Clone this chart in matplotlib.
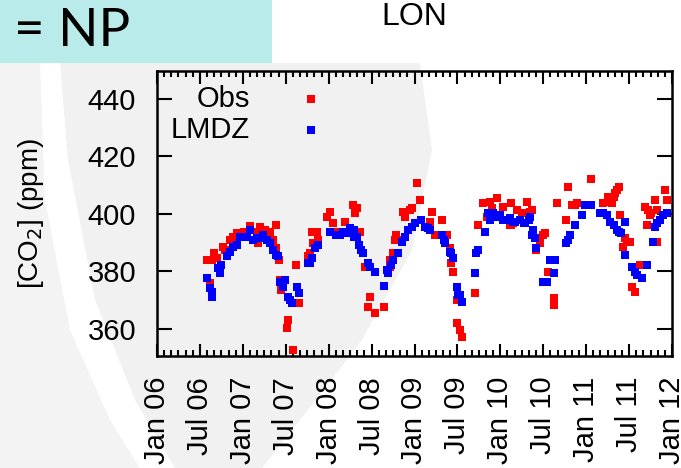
import matplotlib
matplotlib.use("Agg")
from matplotlib import pyplot as plt
from matplotlib.patches import Polygon, Rectangle
import numpy as np

plt.rcParams['font.family'] = ['Liberation Sans', 'DejaVu Sans']

# station LON, decimal year vs CO2 (ppm)
obs_time = [2006.58, 2006.64, 2006.70, 2006.62, 2006.77, 2006.85, 2006.93, 2007.08, 2007.20, 2007.32,
            2007.39, 2007.35, 2007.39, 2007.42, 2007.43, 2007.45, 2007.62, 2007.66, 2007.53, 2007.51,
            2007.58, 2007.78, 2007.80, 2007.86, 2007.88, 2008.02, 2008.05, 2008.19, 2008.28, 2008.31,
            2008.36, 2008.42, 2008.48, 2008.46, 2008.54, 2008.64, 2008.71, 2008.75, 2008.77, 2008.87,
            2008.95, 2009.03, 2009.06, 2009.20, 2009.32, 2009.38, 2009.41, 2009.45, 2009.49, 2009.49,
            2009.53, 2009.55, 2009.70, 2009.74, 2009.84, 2009.80, 2009.88, 2009.96, 2010.13, 2010.15,
            2010.13, 2010.31, 2010.35, 2010.46, 2010.50, 2010.42, 2010.56, 2010.62, 2010.62, 2010.66,
            2010.77, 2010.79, 2010.83, 2010.89, 2011.06, 2011.20, 2011.26, 2011.30, 2011.34, 2011.36,
            2011.39, 2011.43, 2011.45, 2011.51, 2011.53, 2011.57, 2011.63, 2011.69, 2011.71, 2011.74,
            2011.80, 2011.82, 2011.82, 2011.92,
            2006.89, 2007.01, 2007.16, 2007.26, 2007.18, 2006.66, 2006.79, 2007.76, 2007.82, 2008.09,
            2007.98, 2008.33, 2008.89, 2008.97, 2009.18, 2009.24, 2009.43, 2009.90, 2010.03, 2010.11,
            2008.79, 2008.83, 2008.71, 2010.19, 2010.25, 2010.37, 2010.46, 2010.52, 2010.87, 2011.28,
            2011.32, 2011.38, 2011.47, 2011.72, 2011.76, 2011.94]
obs_co2 = [384.0, 384.0, 384.6, 375.9, 388.5, 391.0, 393.4, 395.8, 395.6, 393.8,
           396.2, 391.0, 388.2, 384.0, 377.0, 373.6, 382.2, 368.9, 363.1, 360.4,
           352.7, 386.4, 393.8, 393.8, 391.0, 400.8, 396.9, 397.3, 403.1, 400.3,
           393.8, 381.7, 371.2, 367.8, 365.5, 367.8, 384.0, 386.3, 391.0, 400.8,
           401.4, 410.7, 404.9, 400.8, 397.9, 392.7, 388.1, 379.9, 370.1, 362.0,
           359.7, 357.3, 372.4, 396.2, 399.1, 403.7, 404.3, 405.5, 403.7, 396.8,
           396.2, 404.3, 400.8, 391.0, 392.7, 387.5, 379.9, 370.7, 368.4, 403.9,
           397.9, 409.5, 403.1, 403.7, 412.1, 403.7, 406.0, 403.7, 407.2, 408.4,
           399.7, 388.6, 391.6, 390.4, 374.7, 373.0, 382.3, 402.5, 396.2, 399.7,
           404.9, 401.4, 390.4, 408.4,
           392.1, 393.8, 393.8, 394.4, 389.8, 386.3, 387.5, 385.2, 389.8, 393.8,
           399.1, 402.0, 399.1, 402.0, 397.3, 392.7, 382.9, 402.0, 402.5, 396.2,
           392.7, 391.0, 381.7, 401.4, 400.2, 401.4, 389.8, 393.3, 403.1, 404.3,
           406.0, 409.5, 390.4, 401.4, 400.2, 404.9]

model_time = [2006.58, 2006.64, 2006.64, 2006.73, 2006.75, 2006.81, 2006.85, 2006.93, 2006.97, 2007.05,
              2007.08, 2007.12, 2007.20, 2007.24, 2007.32, 2007.35, 2007.41, 2007.43, 2007.49, 2007.47,
              2007.53, 2007.57, 2007.63, 2007.65, 2007.76, 2007.80, 2007.84, 2007.88, 2008.02, 2008.09,
              2008.17, 2008.25, 2008.33, 2008.35, 2008.40, 2008.46, 2008.54, 2008.64, 2008.69, 2008.73,
              2008.81, 2008.85, 2008.93, 2009.01, 2009.08, 2009.16, 2009.32, 2009.36, 2009.41, 2009.45,
              2009.49, 2009.51, 2009.55, 2009.70, 2009.72, 2009.74, 2009.82, 2009.88, 2009.92, 2010.00,
              2010.07, 2010.15, 2010.23, 2010.29, 2010.35, 2010.38, 2010.40, 2010.42, 2010.50, 2010.60,
              2010.62, 2010.77, 2010.81, 2010.87, 2010.95, 2011.02, 2011.16, 2011.24, 2011.28, 2011.36,
              2011.41, 2011.45, 2011.45, 2011.53, 2011.59, 2011.65, 2011.71, 2011.78, 2011.82, 2011.90,
              2011.94,
              2006.62, 2006.71, 2006.89, 2007.01, 2007.16, 2007.28, 2007.39, 2007.55, 2007.78, 2008.13,
              2008.21, 2008.29, 2008.29, 2008.38, 2008.48, 2008.68, 2008.75, 2008.89, 2008.97, 2009.12,
              2009.18, 2009.34, 2009.43, 2009.53, 2009.96, 2010.03, 2010.11, 2009.86, 2010.17, 2010.27,
              2010.33, 2010.37, 2010.54, 2010.58, 2010.64, 2010.79, 2010.99, 2011.06, 2011.20, 2011.32,
              2011.38, 2011.57, 2011.80, 2011.86]
model_co2 = [377.6, 373.0, 371.2, 379.5, 382.3, 385.2, 386.9, 389.2, 392.1, 391.9,
             394.4, 391.0, 391.6, 392.7, 389.8, 387.5, 385.2, 376.5, 377.0, 374.7,
             371.2, 368.9, 374.7, 372.4, 382.9, 384.6, 388.1, 389.2, 393.8, 392.7,
             393.8, 395.0, 392.1, 389.2, 386.3, 382.9, 379.9, 375.0, 379.4, 382.3,
             386.3, 390.4, 394.4, 396.8, 397.9, 395.0, 392.7, 389.8, 386.9, 384.6,
             374.7, 371.8, 369.5, 379.4, 386.3, 387.5, 393.8, 397.9, 400.2, 399.7,
             397.9, 397.3, 397.9, 396.8, 399.1, 394.4, 391.6, 388.1, 376.5, 384.0,
             379.4, 389.8, 392.7, 396.2, 399.7, 403.1, 400.2, 399.7, 397.3, 394.4,
             393.3, 397.3, 385.7, 381.7, 378.8, 377.6, 382.3, 390.4, 396.8, 399.7,
             400.2,
             374.2, 381.1, 388.6, 392.1, 391.6, 391.0, 385.7, 370.1, 382.9, 392.7,
             393.3, 394.4, 392.1, 387.5, 381.7, 380.5, 384.0, 392.1, 395.6, 395.6,
             394.4, 391.0, 386.3, 371.8, 399.1, 397.9, 398.5, 400.2, 397.3, 396.8,
             397.9, 392.7, 376.5, 384.0, 384.0, 391.0, 403.1, 403.1, 400.2, 396.2,
             393.8, 379.9, 395.6, 397.9]

xtick_pos = [2006.0, 2006.5, 2007.0, 2007.5, 2008.0, 2008.5, 2009.0,
             2009.5, 2010.0, 2010.5, 2011.0, 2011.5, 2012.0]
xtick_labels = ['Jan 06', 'Jul 06', 'Jan 07', 'Jul 07', 'Jan 08', 'Jul 08', 'Jan 09',
                'Jul 09', 'Jan 10', 'Jul 10', 'Jan 11', 'Jul 11', 'Jan 12']
ytick_pos = [360, 380, 400, 420, 440]

W, H = 681, 468

def px(x, y):
    return (x / W, 1 - y / H)

fig = plt.figure(figsize=(6.81, 4.68), dpi=100)
fig.patch.set_facecolor('white')

# slide background swoosh
band = [(60, 63), (420, 63), (432, 150), (412, 250), (362, 340), (300, 420), (262, 468),
        (175, 468), (135, 400), (95, 300), (68, 160)]
fig.patches.append(Polygon([px(*p) for p in band], closed=True, transform=fig.transFigure,
                           facecolor='#f1f1f1', edgecolor='none', zorder=-10))
corner = [(0, 63), (40, 63), (45, 200), (70, 330), (110, 420), (140, 468), (0, 468)]
fig.patches.append(Polygon([px(*p) for p in corner], closed=True, transform=fig.transFigure,
                           facecolor='#f3f3f3', edgecolor='none', zorder=-10))
fig.patches.append(Rectangle(px(0, 63), 272 / W, 63 / H, transform=fig.transFigure,
                             facecolor='#b9ebeb', edgecolor='none', zorder=-5))
fig.text(14 / W, 1 - 31 / H, '= NP', fontsize=38, family=['Lato', 'DejaVu Sans'],
         va='center', ha='left')

ax = fig.add_axes([157 / W, 1 - 356 / H, 515 / W, 285 / H])
ax.set_facecolor('none')

ax.plot(obs_time, obs_co2, 's', color='#ff0000', ms=6, mew=0, clip_on=False)
ax.plot(model_time, model_co2, 's', color='#0000ff', ms=6, mew=0, clip_on=False)

ax.set_xlim(2006.0, 2012.0)
ax.set_ylim(350.6, 449.7)
ax.set_xticks(xtick_pos)
ax.set_xticklabels(xtick_labels, rotation=90, fontsize=21)
ax.set_xticks(np.arange(2006, 2012, 1 / 12), minor=True)
ax.set_yticks(ytick_pos)
ax.set_yticklabels([str(v) for v in ytick_pos], fontsize=21)

ax.tick_params(which='both', direction='in', top=True, right=True, width=1.5, color='black')
ax.tick_params(axis='x', which='major', length=9, pad=15)
ax.tick_params(axis='x', which='minor', length=4)
ax.tick_params(axis='y', which='major', length=11, pad=15)
for s in ax.spines.values():
    s.set_linewidth(1.8)

ax.set_ylabel('[CO$_2$] (ppm)', fontsize=20, labelpad=30)
ax.set_title('LON', fontsize=23, pad=33)

# legend
ax.text(0.181, 0.902, 'Obs', transform=ax.transAxes, ha='right', va='center', fontsize=21)
ax.text(0.181, 0.793, 'LMDZ', transform=ax.transAxes, ha='right', va='center', fontsize=21)
ax.plot([0.299], [0.902], 's', color='#ff0000', ms=5.5, mew=0, transform=ax.transAxes)
ax.plot([0.299], [0.793], 's', color='#0000ff', ms=5.5, mew=0, transform=ax.transAxes)

fig.savefig('out.png', dpi=100)
